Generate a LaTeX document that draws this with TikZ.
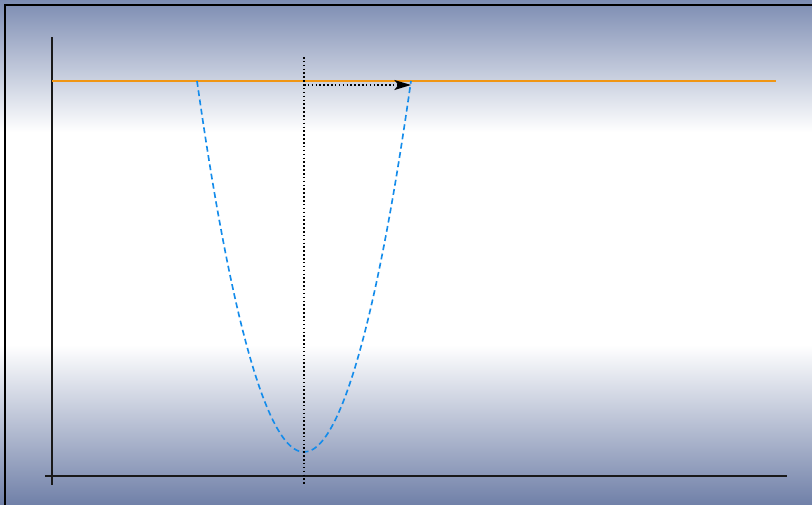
\documentclass[tikz,border=0pt]{standalone}
\usetikzlibrary{arrows.meta}
\definecolor{slateband}{RGB}{124,140,178}
\definecolor{slatelow}{RGB}{112,128,168}
\definecolor{levelorange}{RGB}{240,150,20}
\definecolor{wellblue}{RGB}{20,140,235}
\tikzset{
  axisline/.style={line width=1.8pt,black!90},
  levelline/.style={line width=1.8pt,levelorange},
  wellcurve/.style={line width=1.4pt,wellblue,dash pattern=on 5pt off 3pt},
  guideline/.style={line width=1.3pt,dotted,black},
  guidearr/.style={line width=1.3pt,dotted,black,-{Stealth[length=5mm,width=3mm,inset=1.2mm]}},
  frameline/.style={line width=1.7pt,black}
}

\begin{document}
\begin{tikzpicture}[x=0.03cm,y=-0.03cm]
  \useasboundingbox (0,0) rectangle (812,505);
  % background bands
  \shade[top color=slateband,bottom color=white] (0,0) rectangle (812,132);
  \fill[white] (0,132) rectangle (812,345);
  \shade[top color=white,bottom color=slatelow] (0,345) rectangle (812,505);
  \draw[frameline] (5,520) -- (5,5) -- (830,5);

  \coordinate (ytop) at (52,37);
  \coordinate (ybot) at (52,485);
  \coordinate (xleft) at (45,476);
  \coordinate (xright) at (787,476);
  \coordinate (lvlL) at (52,81);
  \coordinate (lvlR) at (776,81);
  \coordinate (wellL) at (197,81);
  \coordinate (wellR) at (411,81);
  \coordinate (bottom) at (304,452);
  \coordinate (midtop) at (304,57);
  \coordinate (midbot) at (304,485);
  \coordinate (arrS) at (304,85);
  \coordinate (arrE) at (411,85);

  \draw[axisline] (ytop) -- (ybot);
  \draw[axisline] (xleft) -- (xright);
  \draw[levelline] (lvlL) -- (lvlR);
  \draw[wellcurve] (wellL) parabola bend (bottom) (wellR);
  \draw[guideline] (midtop) -- (midbot);
  \draw[guidearr] (arrS) -- (arrE);
\end{tikzpicture}
\end{document}
